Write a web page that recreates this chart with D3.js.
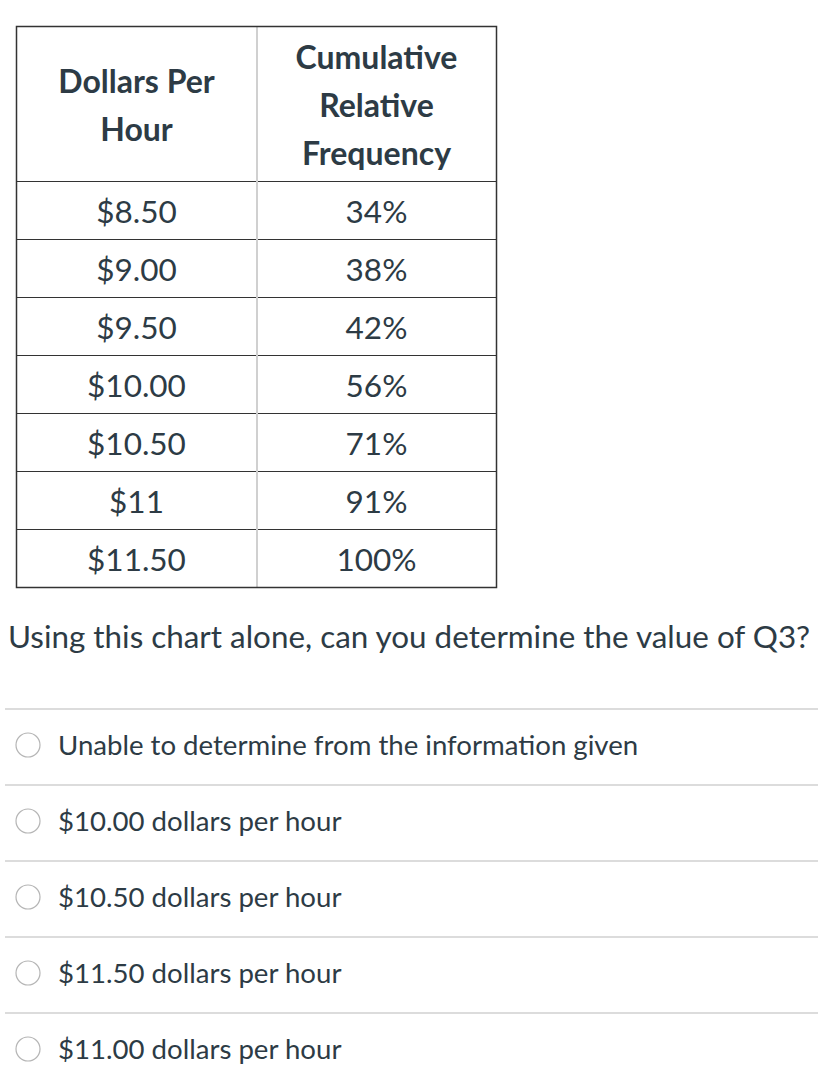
<!DOCTYPE html>
<html>
<head>
<meta charset="utf-8">
<script src="https://cdn.jsdelivr.net/npm/d3@7"></script>
<style>
  html, body { margin: 0; padding: 0; background: #fff; }
  svg { display: block; }
</style>
</head>
<body>
<svg id="chart" width="818" height="1082"></svg>
<script>
// table data
const headerLines = [["Dollars Per", "Hour"], ["Cumulative", "Relative", "Frequency"]];
const wages = ["$8.50", "$9.00", "$9.50", "$10.00", "$10.50", "$11", "$11.50"];
const cumFreq = ["34%", "38%", "42%", "56%", "71%", "91%", "100%"];

const question = "Using this chart alone, can you determine the value of Q3?";
const answers = [
  "Unable to determine from the information given",
  "$10.00 dollars per hour",
  "$10.50 dollars per hour",
  "$11.50 dollars per hour",
  "$11.00 dollars per hour"
];

const textColor = "#2d3b45";
const font = "Lato, 'Open Sans', sans-serif";

const svg = d3.select("#chart");

// layout
const table = { left: 16.5, right: 496.5, top: 26.5, headerBottom: 181.5, bottom: 587.5 };

const x = d3.scaleBand()
    .domain([0, 1])
    .range([table.left, table.right]);

const y = d3.scaleBand()
    .domain(d3.range(wages.length))
    .range([table.headerBottom, table.bottom]);

// header text
const headerG = svg.append("g");
headerLines.forEach((lines, c) => {
  const mid = (table.top + table.headerBottom) / 2 + 2;
  const lh = 48;
  const t = headerG.append("text")
      .attr("x", x(c) + x.bandwidth() / 2)
      .attr("text-anchor", "middle")
      .attr("font-family", font)
      .attr("font-weight", 700)
      .attr("font-size", 32)
      .attr("fill", textColor);
  lines.forEach((line, i) => {
    t.append("tspan")
        .attr("x", x(c) + x.bandwidth() / 2)
        .attr("y", mid + (i - (lines.length - 1) / 2) * lh)
        .attr("dy", "0.35em")
        .text(line);
  });
});

// row lines
svg.append("g")
    .selectAll("line")
    .data(d3.range(wages.length))
    .join("line")
    .attr("x1", table.left)
    .attr("x2", table.right)
    .attr("y1", d => y(d))
    .attr("y2", d => y(d))
    .attr("stroke", "#333")
    .attr("stroke-width", 1.2);

// column divider
svg.append("line")
    .attr("x1", x(1) + 0.5)
    .attr("x2", x(1) + 0.5)
    .attr("y1", table.top)
    .attr("y2", table.bottom)
    .attr("stroke", "#d0d0d0")
    .attr("stroke-width", 2);

// outer border
svg.append("rect")
    .attr("x", table.left)
    .attr("y", table.top)
    .attr("width", table.right - table.left)
    .attr("height", table.bottom - table.top)
    .attr("fill", "none")
    .attr("stroke", "#333")
    .attr("stroke-width", 1.5);

// cells
const cols = [wages, cumFreq];
cols.forEach((vals, c) => {
  svg.append("g")
    .selectAll("text")
    .data(vals)
    .join("text")
    .attr("x", x(c) + x.bandwidth() / 2)
    .attr("y", (d, i) => y(i) + y.bandwidth() / 2 + 1)
    .attr("dy", "0.35em")
    .attr("text-anchor", "middle")
    .attr("font-family", font)
    .attr("font-size", 31.5)
    .attr("fill", textColor)
    .text(d => d);
});

// question
svg.append("text")
    .attr("x", 8)
    .attr("y", 637)
    .attr("dy", "0.35em")
    .attr("font-family", font)
    .attr("font-size", 31.4)
    .attr("fill", textColor)
    .text(question);

// answer options
const optY = d3.scaleBand()
    .domain(d3.range(answers.length))
    .range([709, 709 + 76 * answers.length]);

const opts = svg.append("g")
    .selectAll("g")
    .data(answers)
    .join("g")
    .attr("transform", (d, i) => `translate(0,${optY(i)})`);

opts.append("line")
    .attr("x1", 5)
    .attr("x2", 818)
    .attr("y1", 0)
    .attr("y2", 0)
    .attr("stroke", "#dcdcdc")
    .attr("stroke-width", 2);

opts.append("circle")
    .attr("cx", 28)
    .attr("cy", 36)
    .attr("r", 12)
    .attr("fill", "#fff")
    .attr("stroke", "#b5b5b5")
    .attr("stroke-width", 1.2);

opts.append("text")
    .attr("x", 58)
    .attr("y", 36)
    .attr("dy", "0.35em")
    .attr("font-family", font)
    .attr("font-size", 27.6)
    .attr("fill", textColor)
    .text(d => d);
</script>
</body>
</html>
